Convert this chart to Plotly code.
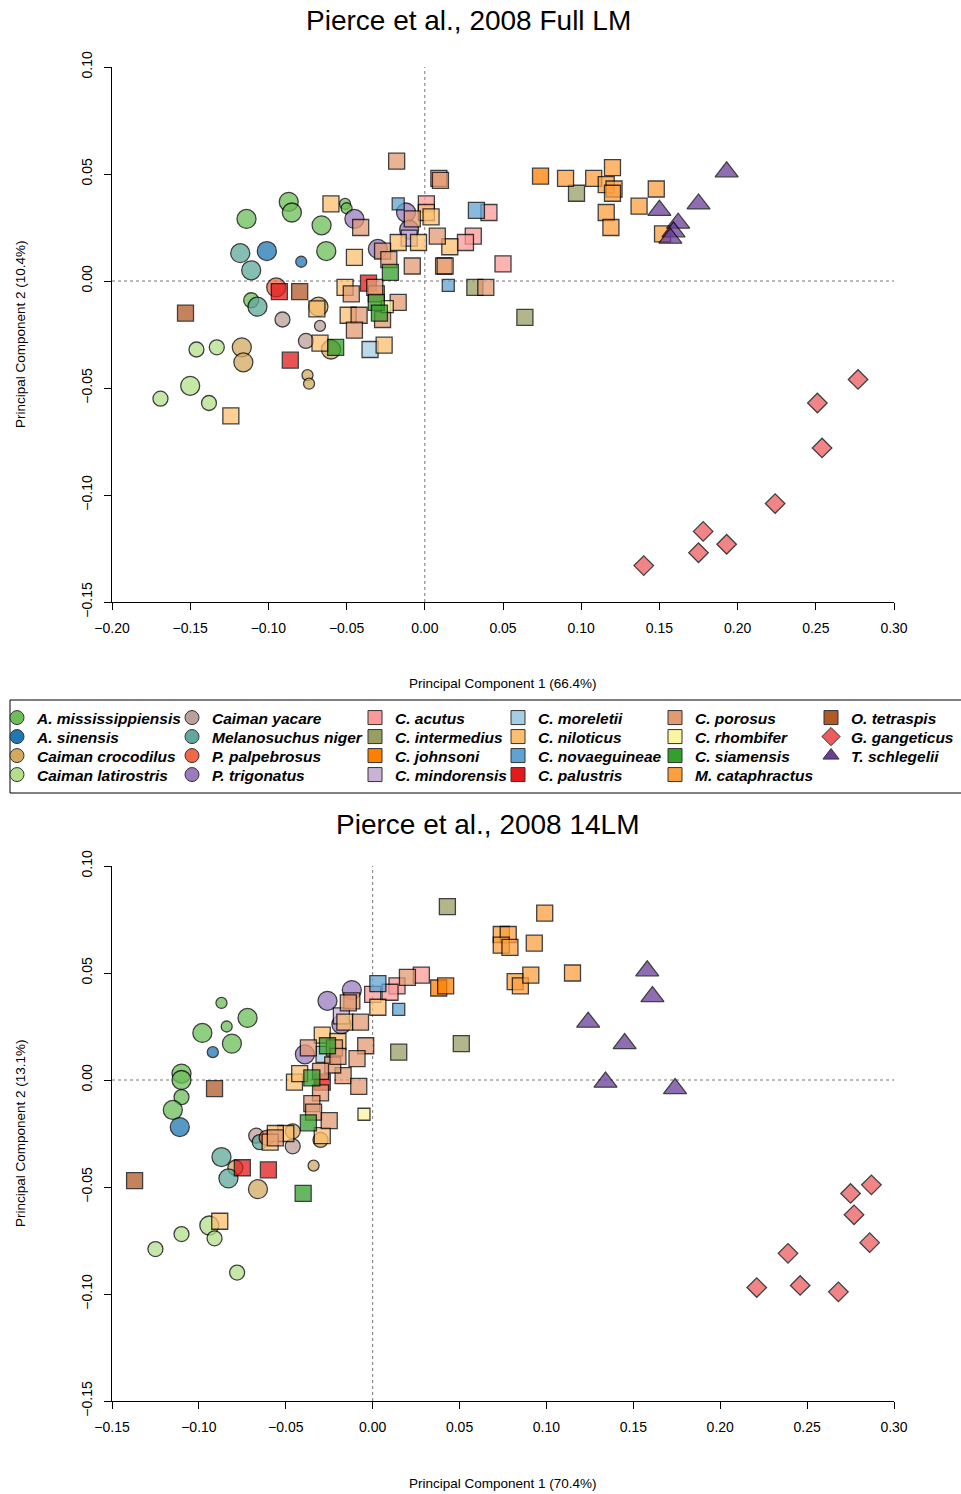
import plotly.graph_objects as go

W, H = 961, 1494

species = [
    "A. mississippiensis", "A. sinensis", "Caiman crocodilus", "Caiman latirostris",
    "Caiman yacare", "Melanosuchus niger", "P. palpebrosus", "P. trigonatus",
    "C. acutus", "C. intermedius", "C. johnsoni", "C. mindorensis",
    "C. moreletii", "C. niloticus", "C. novaeguineae", "C. palustris",
    "C. porosus", "C. rhombifer", "C. siamensis", "M. cataphractus",
    "O. tetraspis", "G. gangeticus", "T. schlegelii",
]

colors = {
    "A. mississippiensis": "#6cbe58", "A. sinensis": "#1f78b4",
    "Caiman crocodilus": "#d4a95f", "Caiman latirostris": "#b2df8a",
    "Caiman yacare": "#bba09a", "Melanosuchus niger": "#5fa99c",
    "P. palpebrosus": "#ef6848", "P. trigonatus": "#9a7bbf",
    "C. acutus": "#fb9a99", "C. intermedius": "#999e63",
    "C. johnsoni": "#ff7f00", "C. mindorensis": "#cab2d6",
    "C. moreletii": "#a6cee3", "C. niloticus": "#fdbf6f",
    "C. novaeguineae": "#5fa3d3", "C. palustris": "#e31a1c",
    "C. porosus": "#e39a73", "C. rhombifer": "#faf59f",
    "C. siamensis": "#33a02c", "M. cataphractus": "#fd9f3e",
    "O. tetraspis": "#b15928", "G. gangeticus": "#ec5b5e",
    "T. schlegelii": "#6a3d9a",
}

symbols = {sp: "circle" for sp in species[:8]}
symbols.update({sp: "square" for sp in species[8:21]})
symbols["G. gangeticus"] = "diamond"
symbols["T. schlegelii"] = "triangle-up"

# ---------------- Full LM data ----------------
full_pc1 = {
    "A. mississippiensis": [-0.087, -0.085, -0.114, -0.066, -0.063, -0.051, -0.050, -0.111],
    "A. sinensis": [-0.101, -0.079],
    "Caiman crocodilus": [-0.117, -0.116, -0.068, -0.060, -0.075, -0.074],
    "Caiman latirostris": [-0.169, -0.150, -0.138, -0.146, -0.133],
    "Caiman yacare": [-0.091, -0.067, -0.076],
    "Melanosuchus niger": [-0.118, -0.111, -0.107],
    "P. palpebrosus": [-0.095],
    "P. trigonatus": [-0.045, -0.012, -0.010, -0.030],
    "C. acutus": [0.001, 0.041, 0.031, 0.026, 0.050],
    "C. intermedius": [0.032, 0.097, 0.064],
    "C. johnsoni": [0.074],
    "C. mindorensis": [-0.010],
    "C. moreletii": [-0.035],
    "C. niloticus": [-0.124, -0.060, -0.045, -0.051, -0.069, -0.049, -0.067, -0.026,
                     -0.017, -0.004, 0.001, 0.004, 0.016, 0.012],
    "C. novaeguineae": [-0.017, 0.033, 0.015],
    "C. palustris": [-0.093, -0.086, -0.036],
    "C. porosus": [-0.018, 0.009, 0.010, -0.041, -0.027, -0.023, -0.017, -0.047, -0.008,
                   -0.042, -0.045, -0.031, -0.032, -0.027, 0.008, 0.013, 0.039, -0.008],
    "C. rhombifer": [-0.024],
    "C. siamensis": [-0.022, -0.031, -0.029, -0.057],
    "M. cataphractus": [0.090, 0.108, 0.120, 0.116, 0.121, 0.120, 0.116, 0.119, 0.137, 0.148, 0.152],
    "O. tetraspis": [-0.153, -0.080],
    "G. gangeticus": [0.277, 0.251, 0.254, 0.224, 0.178, 0.193, 0.175, 0.140],
    "T. schlegelii": [0.193, 0.175, 0.150, 0.162, 0.159, 0.157],
}
full_pc2 = {
    "A. mississippiensis": [0.037, 0.032, 0.029, 0.026, 0.014, 0.036, 0.034, -0.009],
    "A. sinensis": [0.014, 0.009],
    "Caiman crocodilus": [-0.031, -0.038, -0.012, -0.032, -0.044, -0.048],
    "Caiman latirostris": [-0.055, -0.049, -0.057, -0.032, -0.031],
    "Caiman yacare": [-0.018, -0.021, -0.028],
    "Melanosuchus niger": [0.013, 0.005, -0.012],
    "P. palpebrosus": [-0.003],
    "P. trigonatus": [0.029, 0.032, 0.024, 0.015],
    "C. acutus": [0.036, 0.032, 0.021, 0.018, 0.008],
    "C. intermedius": [-0.003, 0.041, -0.017],
    "C. johnsoni": [0.049],
    "C. mindorensis": [0.020],
    "C. moreletii": [-0.032],
    "C. niloticus": [-0.063, 0.036, 0.011, -0.003, -0.013, -0.016, -0.029, -0.030,
                     0.018, 0.018, 0.032, 0.030, 0.016, 0.007],
    "C. novaeguineae": [0.036, 0.033, -0.002],
    "C. palustris": [-0.005, -0.037, -0.001],
    "C. porosus": [0.056, 0.048, 0.047, 0.025, 0.014, 0.010, -0.010, -0.006, 0.007,
                   -0.016, -0.023, -0.006, -0.003, -0.018, 0.021, 0.007, -0.003, 0.029],
    "C. rhombifer": [-0.012],
    "C. siamensis": [0.004, -0.010, -0.015, -0.031],
    "M. cataphractus": [0.048, 0.048, 0.053, 0.045, 0.043, 0.041, 0.032, 0.025, 0.035, 0.043, 0.022],
    "O. tetraspis": [-0.015, -0.005],
    "G. gangeticus": [-0.046, -0.057, -0.078, -0.104, -0.117, -0.123, -0.127, -0.133],
    "T. schlegelii": [0.051, 0.036, 0.033, 0.027, 0.023, 0.020],
}
# relative specimen size class (1 small, 2 medium, 3 large)
full_cs = {
    "A. mississippiensis": [3, 3, 3, 3, 3, 1, 1, 2],
    "A. sinensis": [3, 1],
    "Caiman crocodilus": [3, 3, 3, 3, 1, 1],
    "Caiman latirostris": [2, 3, 2, 2, 2],
    "Caiman yacare": [2, 1, 2],
    "Melanosuchus niger": [3, 3, 3],
    "P. palpebrosus": [3],
    "P. trigonatus": [3, 3, 3, 3],
    "C. novaeguineae": [1, 2, 1],
    "C. rhombifer": [1],
}

# ---------------- 14LM data ----------------
lm14_pc1 = {
    "A. mississippiensis": [-0.087, -0.072, -0.084, -0.098, -0.081, -0.110, -0.110, -0.110, -0.115],
    "A. sinensis": [-0.092, -0.111],
    "Caiman crocodilus": [-0.066, -0.079, -0.034, -0.046, -0.030],
    "Caiman latirostris": [-0.125, -0.110, -0.094, -0.091, -0.078],
    "Caiman yacare": [-0.067, -0.046],
    "Melanosuchus niger": [-0.087, -0.083, -0.065],
    "P. palpebrosus": [-0.061],
    "P. trigonatus": [-0.012, -0.026, -0.018, -0.039],
    "C. acutus": [0.028, 0.014, 0.010, 0.000],
    "C. intermedius": [0.043, 0.051, 0.015],
    "C. johnsoni": [0.038, 0.042],
    "C. mindorensis": [-0.018],
    "C. moreletii": [-0.028],
    "C. niloticus": [0.003, -0.016, -0.029, -0.020, -0.045, -0.050, -0.029, -0.042,
                     -0.088, -0.056, -0.059],
    "C. novaeguineae": [0.003, 0.015],
    "C. palustris": [-0.075, -0.060, -0.029],
    "C. porosus": [0.020, -0.012, -0.014, -0.007, -0.004, -0.009, -0.017, -0.008, -0.023,
                   -0.030, -0.030, -0.035, -0.034, -0.025, -0.037, -0.022, -0.020, -0.056],
    "C. rhombifer": [-0.005],
    "C. siamensis": [-0.026, -0.035, -0.037, -0.040],
    "M. cataphractus": [0.099, 0.074, 0.078, 0.074, 0.079, 0.093, 0.082, 0.085, 0.091, 0.115],
    "O. tetraspis": [-0.091, -0.137],
    "G. gangeticus": [0.287, 0.275, 0.277, 0.286, 0.239, 0.221, 0.246, 0.268],
    "T. schlegelii": [0.158, 0.161, 0.124, 0.145, 0.134, 0.174],
}
lm14_pc2 = {
    "A. mississippiensis": [0.036, 0.029, 0.025, 0.022, 0.017, 0.003, 0.000, -0.008, -0.014],
    "A. sinensis": [0.013, -0.022],
    "Caiman crocodilus": [-0.051, -0.041, -0.040, -0.024, -0.028],
    "Caiman latirostris": [-0.079, -0.072, -0.068, -0.074, -0.090],
    "Caiman yacare": [-0.026, -0.031],
    "Melanosuchus niger": [-0.036, -0.046, -0.029],
    "P. palpebrosus": [-0.027],
    "P. trigonatus": [0.042, 0.037, 0.026, 0.012],
    "C. acutus": [0.049, 0.044, 0.041, 0.040],
    "C. intermedius": [0.081, 0.017, 0.013],
    "C. johnsoni": [0.043, 0.044],
    "C. mindorensis": [0.030],
    "C. moreletii": [0.012],
    "C. niloticus": [0.034, 0.027, 0.021, 0.018, -0.001, -0.025, -0.026, 0.003,
                     -0.066, -0.025, -0.029],
    "C. novaeguineae": [0.045, 0.033],
    "C. palustris": [-0.041, -0.042, -0.001],
    "C. porosus": [0.048, 0.037, 0.036, 0.027, 0.016, 0.010, 0.002, -0.003, 0.007,
                   0.004, -0.006, -0.011, -0.015, -0.019, 0.015, 0.015, 0.011, -0.027],
    "C. rhombifer": [-0.016],
    "C. siamensis": [0.016, 0.001, -0.020, -0.053],
    "M. cataphractus": [0.078, 0.068, 0.068, 0.063, 0.062, 0.064, 0.046, 0.044, 0.049, 0.050],
    "O. tetraspis": [-0.004, -0.047],
    "G. gangeticus": [-0.049, -0.053, -0.063, -0.076, -0.081, -0.097, -0.096, -0.099],
    "T. schlegelii": [0.051, 0.039, 0.027, 0.017, -0.001, -0.004],
}
lm14_cs = {
    "A. mississippiensis": [1, 3, 1, 3, 3, 3, 3, 2, 3],
    "A. sinensis": [1, 3],
    "Caiman crocodilus": [3, 2, 1, 2, 2],
    "Caiman latirostris": [2, 2, 3, 2, 2],
    "Caiman yacare": [2, 2],
    "Melanosuchus niger": [3, 3, 2],
    "P. palpebrosus": [2],
    "P. trigonatus": [3, 3, 3, 3],
    "C. novaeguineae": [2, 1],
    "C. rhombifer": [1],
}

ticks_full_x = [-0.20, -0.15, -0.10, -0.05, 0.00, 0.05, 0.10, 0.15, 0.20, 0.25, 0.30]
ticks_14_x = [-0.15, -0.10, -0.05, 0.00, 0.05, 0.10, 0.15, 0.20, 0.25, 0.30]
ticks_y = [-0.15, -0.10, -0.05, 0.00, 0.05, 0.10]

titles = ["Pierce et al., 2008 Full LM", "Pierce et al., 2008 14LM"]
xtitles = ["Principal Component 1 (66.4%)", "Principal Component 1 (70.4%)"]
ytitles = ["Principal Component 2 (10.4%)", "Principal Component 2 (13.1%)"]

# ---------------- styling ----------------
size_px = {
    "circle": {1: 11, 2: 15, 3: 19},
    "square": {1: 12, 2: 16, 3: 17},
    "diamond": {1: 15, 2: 15, 3: 15},
    "triangle-up": {1: 20, 2: 20, 3: 20},
}
FONT = "Liberation Sans, Arial, Helvetica, sans-serif"

fig = go.Figure()

panels = [
    (full_pc1, full_pc2, full_cs, "x", "y"),
    (lm14_pc1, lm14_pc2, lm14_cs, "x2", "y2"),
]
for pc1, pc2, cs, xa, ya in panels:
    for sp in species:
        if sp not in pc1:
            continue
        sym = symbols[sp]
        cls = cs.get(sp, [2] * len(pc1[sp]))
        fig.add_trace(go.Scatter(
            x=pc1[sp], y=pc2[sp], mode="markers", xaxis=xa, yaxis=ya,
            showlegend=False, hoverinfo="skip",
            marker=dict(symbol=sym, size=[size_px[sym][c] for c in cls],
                        color=colors[sp], opacity=0.75,
                        line=dict(color="black", width=1.3)),
        ))

# legend entries: six columns, four rows
col_text_x = [37, 212, 395, 538, 695, 851]
row_y = [718, 737, 756, 775]
layout_legends = {}
for i, sp in enumerate(species):
    col, row = divmod(i, 4)
    key = "legend" if i == 0 else f"legend{i + 1}"
    fig.add_trace(go.Scatter(
        x=[None], y=[None], mode="markers", name=sp, legend=key,
        showlegend=True, hoverinfo="skip",
        marker=dict(symbol=symbols[sp], size=14, color=colors[sp],
                    line=dict(color="#333333", width=1)),
    ))
    layout_legends[key] = dict(
        x=(col_text_x[col] - 40) / W, xanchor="left",
        y=1 - row_y[row] / H, yanchor="middle",
        bgcolor="rgba(0,0,0,0)", borderwidth=0, itemsizing="trace",
        font=dict(family=FONT, size=15.5, color="black", weight="bold", style="italic"),
    )

xdom = [112 / W, 894 / W]
ydom1 = [1 - 602 / H, 1 - 67 / H]
ydom2 = [1 - 1401 / H, 1 - 866 / H]

axis_common = dict(
    showgrid=False, zeroline=False, showline=True, linecolor="black", linewidth=1,
    ticks="outside", ticklen=7, tickcolor="black", tickwidth=1,
    tickformat=".2f", tickfont=dict(family=FONT, size=14, color="black"),
    ticklabelstandoff=6, automargin=False,
)

fig.update_layout(
    width=W, height=H, margin=dict(l=0, r=0, t=0, b=0, autoexpand=False),
    paper_bgcolor="white", plot_bgcolor="white",
    xaxis=dict(domain=xdom, anchor="y", range=[-0.20, 0.30], tickvals=ticks_full_x, **axis_common),
    yaxis=dict(domain=ydom1, anchor="x", range=[-0.15, 0.10], tickvals=ticks_y, tickangle=-90, **axis_common),
    xaxis2=dict(domain=xdom, anchor="y2", range=[-0.15, 0.30], tickvals=ticks_14_x, **axis_common),
    yaxis2=dict(domain=ydom2, anchor="x2", range=[-0.15, 0.10], tickvals=ticks_y, tickangle=-90, **axis_common),
    **layout_legends,
)

shapes = []
for xa, ya in [("x", "y"), ("x2", "y2")]:
    shapes.append(dict(type="line", xref=xa, yref=f"{ya} domain", x0=0, x1=0, y0=0, y1=1,
                       line=dict(color="#777777", width=1, dash="dot"), layer="below"))
    shapes.append(dict(type="line", xref=f"{xa} domain", yref=ya, x0=0, x1=1, y0=0, y1=0,
                       line=dict(color="#777777", width=1, dash="dot"), layer="below"))
shapes.append(dict(type="rect", xref="paper", yref="paper", x0=10 / W, x1=1.01,
                   y0=1 - 793 / H, y1=1 - 700 / H, line=dict(color="black", width=1)))
fig.update_layout(shapes=shapes)

ann = []
for title, tx, ty in [(titles[0], 468, 21), (titles[1], 488, 824)]:
    ann.append(dict(text=title, x=tx / W, y=1 - ty / H, xref="paper", yref="paper",
                    showarrow=False, xanchor="center", yanchor="middle",
                    font=dict(family=FONT, size=28, color="black")))
for t, ty in [(xtitles[0], 684), (xtitles[1], 1483)]:
    ann.append(dict(text=t, x=503 / W, y=1 - ty / H, xref="paper", yref="paper",
                    showarrow=False, xanchor="center", yanchor="middle",
                    font=dict(family=FONT, size=13.5, color="black")))
for t, ty in [(ytitles[0], 334), (ytitles[1], 1133)]:
    ann.append(dict(text=t, x=20 / W, y=1 - ty / H, xref="paper", yref="paper",
                    showarrow=False, xanchor="center", yanchor="middle", textangle=-90,
                    font=dict(family=FONT, size=13.5, color="black")))
fig.update_layout(annotations=ann)

fig.write_html("out.html")
